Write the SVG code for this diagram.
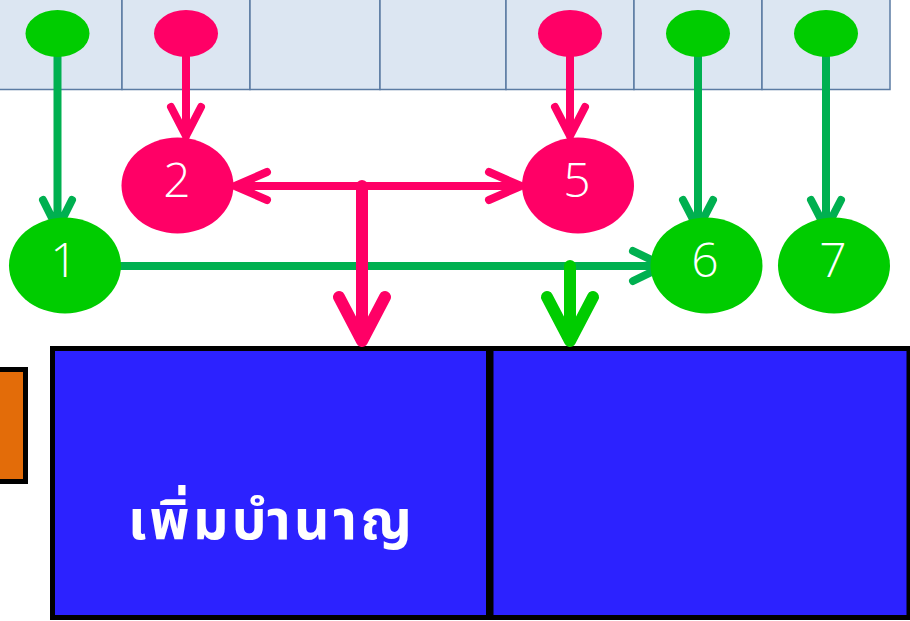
<svg xmlns="http://www.w3.org/2000/svg" width="910" height="621" viewBox="0 0 910 621">
<defs>
<style>
.cell{fill:#dce6f2;stroke:#5b7ba3;stroke-width:1.5}
.dotg{fill:#00cc00}
.dotp{fill:#ff0066}
.ng{fill:#00cc00}
.np{fill:#ff0066}
.num{fill:#ffffff;font-family:"Open Sans","Noto Sans",sans-serif;font-weight:300;font-size:48px;text-anchor:middle}
.box{fill:#2c22ff;stroke:#000000;stroke-width:5}
.g{fill:none;stroke:#00b050;stroke-width:8;stroke-linecap:round;stroke-linejoin:round}
.p{fill:none;stroke:#ff0066;stroke-width:8;stroke-linecap:round;stroke-linejoin:round}
.pt{fill:none;stroke:#ff0066;stroke-width:12;stroke-linecap:round;stroke-linejoin:round}
.gt{fill:none;stroke:#00cc00;stroke-width:12;stroke-linecap:round;stroke-linejoin:round}
.label{fill:#ffffff;font-family:"Noto Sans Thai","Noto Sans","DejaVu Sans",sans-serif;font-weight:bold;font-size:55px;text-anchor:middle}
</style>
</defs>
<rect width="910" height="621" fill="#ffffff"/>
<g id="cells">
<rect class="cell" x="-6" y="-10" width="128" height="99.5"/>
<rect class="cell" x="122" y="-10" width="128" height="99.5"/>
<rect class="cell" x="250" y="-10" width="130" height="99.5"/>
<rect class="cell" x="380" y="-10" width="126" height="99.5"/>
<rect class="cell" x="506" y="-10" width="128" height="99.5"/>
<rect class="cell" x="634" y="-10" width="128" height="99.5"/>
<rect class="cell" x="762" y="-10" width="128" height="99.5"/>
</g>
<g id="orange-box">
<rect x="-10" y="369.5" width="35.5" height="112" fill="#e36c09" stroke="#000000" stroke-width="5"/>
</g>
<g id="box-left">
<rect class="box" x="52.5" y="348.5" width="436" height="269"/>
<text class="label" x="270" y="539" textLength="284" lengthAdjust="spacing">เพิ่มบำนาญ</text>
</g>
<g id="box-right">
<rect class="box" x="491" y="348.5" width="418" height="269"/>
</g>
<g id="connectors">
<path class="g" d="M57.5 57 V229 M43 200 L57.5 229 L72 200"/>
<path class="p" d="M186 57 V136 M171 107 L186 136 L201 107"/>
<path class="p" d="M570 57 V136 M555 107 L570 136 L585 107"/>
<path class="g" d="M698 57 V229 M683 200 L698 229 L713 200"/>
<path class="g" d="M826 57 V229 M811 200 L826 229 L841 200"/>
<path class="p" d="M235 186 H521 M267 172 L235 186 L267 200 M489 172 L521 186 L489 200"/>
<path class="g" d="M121 266 H664 M633 251 L664 266 L633 281"/>
<path class="pt" d="M362 186 V341 M339 297 L362 341 L385 297"/>
<path class="gt" d="M570 266 V341 M547 297 L570 341 L593 297"/>
</g>
<g id="dot-1"><ellipse class="dotg" cx="57.5" cy="33.5" rx="32" ry="23.5"/></g>
<g id="dot-2"><ellipse class="dotp" cx="186" cy="33.5" rx="32" ry="23.5"/></g>
<g id="dot-5"><ellipse class="dotp" cx="570" cy="33.5" rx="32" ry="23.5"/></g>
<g id="dot-6"><ellipse class="dotg" cx="698" cy="33.5" rx="32" ry="23.5"/></g>
<g id="dot-7"><ellipse class="dotg" cx="826" cy="33.5" rx="32" ry="23.5"/></g>
<g id="node-1"><ellipse class="ng" cx="65" cy="265.5" rx="56" ry="48"/><text class="num" x="64" y="277">1</text></g>
<g id="node-2"><ellipse class="np" cx="177.5" cy="185.5" rx="56" ry="48"/><text class="num" x="177" y="197">2</text></g>
<g id="node-5"><ellipse class="np" cx="578" cy="185.5" rx="56" ry="48"/><text class="num" x="577" y="197">5</text></g>
<g id="node-6"><ellipse class="ng" cx="706.5" cy="265.5" rx="56" ry="48"/><text class="num" x="705" y="277">6</text></g>
<g id="node-7"><ellipse class="ng" cx="834" cy="265.5" rx="56" ry="48"/><text class="num" x="833" y="277">7</text></g>
</svg>
